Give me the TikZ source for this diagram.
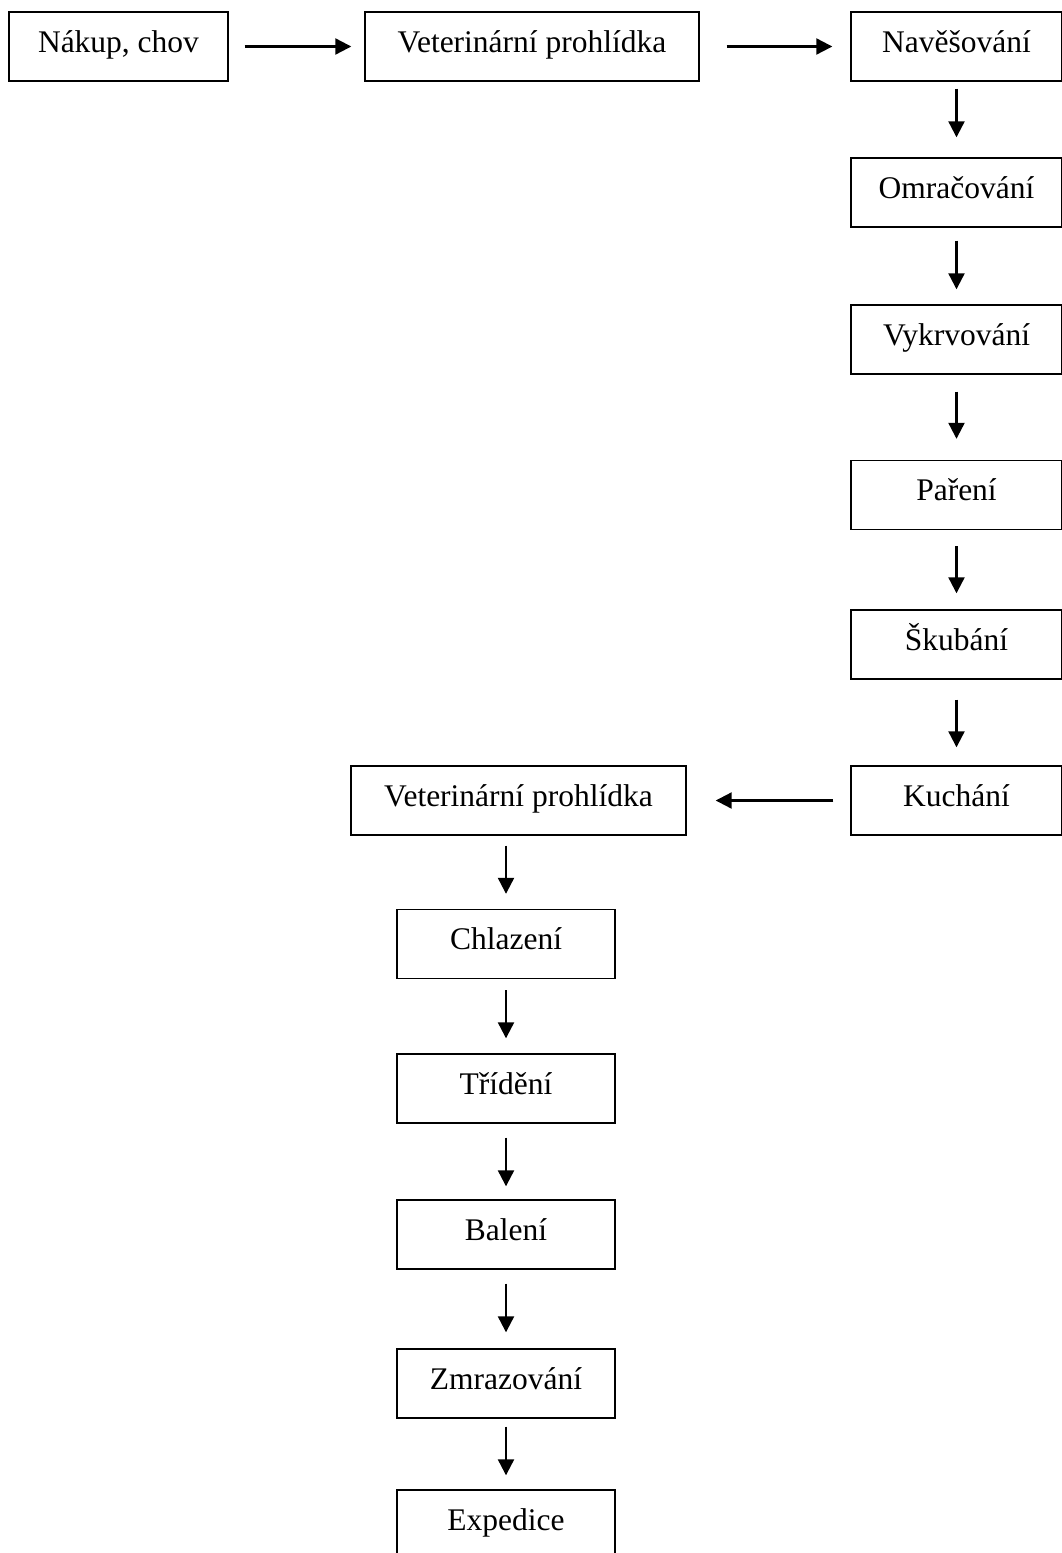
\documentclass[tikz,border=0pt]{standalone}
\usepackage{fontspec}
\setmainfont{Liberation Serif}
\usetikzlibrary{arrows.meta}
\tikzset{
  stepbox/.style={draw, line width=1.4pt, inner xsep=0pt, inner ysep=0pt,
    text height=40pt, text depth=29pt, align=center,
    font=\fontsize{31.5}{36}\selectfont},
  wide/.style={minimum width=#1},
  flow/.style={line width=2.2pt, -{Triangle[length=16pt,width=16pt]}},
}
\begin{document}
\begin{tikzpicture}[x=1pt,y=-1pt]
\useasboundingbox (0,0) rectangle (1062,1553);
\clip (0,0) rectangle (1062,1553);
% top row
\node[stepbox, wide=219pt] (n1) at (118.5,46.5) {Nákup, chov};
\node[stepbox, wide=334pt] (v1) at (532,46.5) {Veterinární prohlídka};
\node[stepbox, wide=211pt] (nav) at (956.5,46.5) {Navěšování};
% right column
\node[stepbox, wide=211pt] (omr) at (956.5,192.5) {Omračování};
\node[stepbox, wide=211pt] (vyk) at (956.5,339.5) {Vykrvování};
\node[stepbox, wide=211pt] (par) at (956.5,495) {Paření};
\node[stepbox, wide=211pt] (sku) at (956.5,644.5) {Škubání};
\node[stepbox, wide=211pt] (kuch) at (956.5,800.5) {Kuchání};
% bottom column
\node[stepbox, wide=335pt] (v2) at (518.5,800.5) {Veterinární prohlídka};
\node[stepbox, wide=218pt] (chl) at (506,944) {Chlazení};
\node[stepbox, wide=218pt] (tri) at (506,1088.5) {Třídění};
\node[stepbox, wide=218pt] (bal) at (506,1234.5) {Balení};
\node[stepbox, wide=218pt] (zmr) at (506,1383.5) {Zmrazování};
\node[stepbox, wide=218pt] (exp) at (506,1524.5) {Expedice};
% connectors
\draw[flow, shorten <=16pt, shorten >=13pt] (n1.east) -- (v1.west);
\draw[flow, shorten <=27pt, shorten >=18pt] (v1.east) -- (nav.west);
\draw[flow, shorten <=7pt, shorten >=20pt] (nav.south) -- (omr.north);
\draw[flow, shorten <=13pt, shorten >=15pt] (omr.south) -- (vyk.north);
\draw[flow, shorten <=17pt, shorten >=21pt] (vyk.south) -- (par.north);
\draw[flow, shorten <=16pt, shorten >=16pt] (par.south) -- (sku.north);
\draw[flow, shorten <=20pt, shorten >=18pt] (sku.south) -- (kuch.north);
\draw[flow, shorten <=17pt, shorten >=29pt] (kuch.west) -- (v2.east);
\draw[flow, shorten <=10pt, shorten >=15pt] (v2.south -| chl.north) -- (chl.north);
\draw[flow, shorten <=11pt, shorten >=15pt] (chl.south) -- (tri.north);
\draw[flow, shorten <=14pt, shorten >=13pt] (tri.south) -- (bal.north);
\draw[flow, shorten <=14pt, shorten >=16pt] (bal.south) -- (zmr.north);
\draw[flow, shorten <=8pt, shorten >=14pt] (zmr.south) -- (exp.north);
\end{tikzpicture}
\end{document}
